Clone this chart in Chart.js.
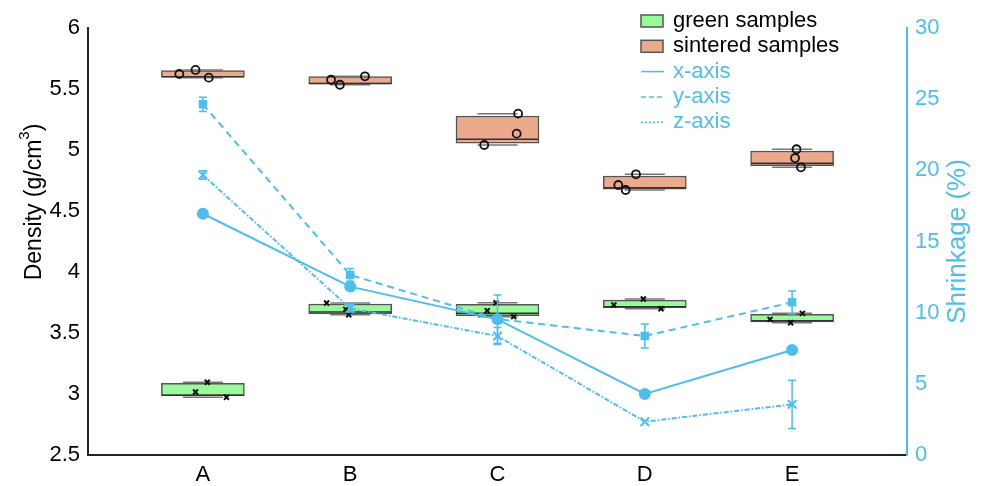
<!DOCTYPE html>
<html>
<head>
<meta charset="utf-8">
<script src="https://cdn.jsdelivr.net/npm/chart.js@4.4.1/dist/chart.umd.min.js"></script>
<style>
  html, body { margin: 0; background: #fff; }
  #wrap { width: 988px; height: 486px; }
</style>
</head>
<body>
<div id="wrap"><canvas id="chart"></canvas></div>
<script>
var categories = ['A', 'B', 'C', 'D', 'E'];

// box stats per category: [min, q1, median, q3, max]  (g/cm3)
var greenBox = [
    [2.973, 2.986, 2.990, 3.088, 3.096],
    [3.650, 3.656, 3.672, 3.738, 3.746],
    [3.634, 3.642, 3.661, 3.735, 3.748],
    [3.699, 3.707, 3.715, 3.770, 3.779],
    [3.584, 3.590, 3.601, 3.653, 3.661]
];
var sinteredBox = [
    [5.593, 5.596, 5.600, 5.650, 5.656],
    [5.535, 5.541, 5.545, 5.601, 5.604],
    [5.041, 5.055, 5.088, 5.279, 5.298],
    [4.672, 4.678, 4.690, 4.787, 4.801],
    [4.858, 4.871, 4.891, 4.992, 5.006]
];

// individual samples: density values and their jittered category position
var greenValues = [
    [3.096, 3.016, 2.973], [3.746, 3.694, 3.650], [3.748, 3.683, 3.634],
    [3.779, 3.730, 3.699], [3.661, 3.612, 3.584]
];
var greenJitter = [
    [0.03, -0.05, 0.16], [-0.16, -0.03, -0.01], [-0.01, -0.07, 0.11],
    [-0.01, -0.21, 0.11], [0.07, -0.15, -0.01]
];
var sinteredValues = [
    [5.656, 5.623, 5.593], [5.604, 5.576, 5.535], [5.298, 5.134, 5.041],
    [4.801, 4.713, 4.672], [5.006, 4.934, 4.858]
];
var sinteredJitter = [
    [-0.05, -0.16, 0.04], [0.10, -0.13, -0.07], [0.14, 0.13, -0.09],
    [-0.06, -0.18, -0.13], [0.03, 0.02, 0.06]
];

// shrinkage (%) and error
var shrinkX = [16.95, 11.83, 9.53, 4.29, 7.38];
var shrinkY = [24.64, 12.65, 9.55, 8.36, 10.73];
var shrinkYErr = [0.5, 0.45, 1.7, 0.85, 0.8];
var shrinkZ = [19.67, 10.3, 8.36, 2.34, 3.56];
var shrinkZErr = [0.3, 0.25, 0.6, 0, 1.7];

var blue = 'rgb(77, 190, 238)';
var greenFill = 'rgb(152, 250, 152)';
var salmonFill = 'rgb(236, 170, 140)';
var boxEdge = '#555';
var font = "'Liberation Sans', Arial, sans-serif";

function boxData(stats) {
    return stats.map((s, i) => ({ x: i, y: [s[1], s[3]] }));
}
function sampleData(values, jitter) {
    let pts = [];
    values.forEach((vals, i) => {
        vals.forEach((v, j) => pts.push({ x: i + jitter[i][j], y: v }));
    });
    return pts;
}
function lineData(vals) {
    return vals.map((v, i) => ({ x: i, y: v }));
}

var boxPlugin = {
    id: 'boxExtras',
    afterDatasetDraw(chart, args) {
        let ds = chart.data.datasets[args.index];
        if (!ds.boxStats) return;
        let ctx = chart.ctx, xs = chart.scales.x, ys = chart.scales.y;
        ctx.save();
        ds.boxStats.forEach((s, i) => {
            let cx = xs.getPixelForValue(i);
            ctx.strokeStyle = '#777';
            ctx.lineWidth = 1.5;
            [s[0], s[4]].forEach(v => {
                let py = ys.getPixelForValue(v);
                ctx.beginPath();
                ctx.moveTo(cx - 20, py);
                ctx.lineTo(cx + 20, py);
                ctx.stroke();
            });
            ctx.strokeStyle = '#333';
            let my = ys.getPixelForValue(s[2]);
            ctx.beginPath();
            ctx.moveTo(cx - 41, my);
            ctx.lineTo(cx + 41, my);
            ctx.stroke();
        });
        ctx.restore();
    },
    afterDatasetsDraw(chart) {
        let ctx = chart.ctx, xs = chart.scales.x, ys = chart.scales.y1;
        ctx.save();
        ctx.strokeStyle = blue;
        ctx.lineWidth = 1.5;
        chart.data.datasets.forEach(ds => {
            if (!ds.errors) return;
            ds.errors.forEach((e, i) => {
                if (!e) return;
                let v = ds.data[i].y;
                let cx = xs.getPixelForValue(i);
                let top = ys.getPixelForValue(v + e), bot = ys.getPixelForValue(v - e);
                ctx.beginPath();
                ctx.moveTo(cx, top); ctx.lineTo(cx, bot);
                ctx.moveTo(cx - 4, top); ctx.lineTo(cx + 4, top);
                ctx.moveTo(cx - 4, bot); ctx.lineTo(cx + 4, bot);
                ctx.stroke();
            });
        });
        ctx.restore();
    },
    afterDraw(chart) {
        let ctx = chart.ctx, area = chart.chartArea;
        ctx.save();
        // left axis title with superscript
        ctx.fillStyle = '#000';
        ctx.textBaseline = 'middle';
        ctx.translate(35, 202);
        ctx.rotate(-Math.PI / 2);
        let main = 'Density (g/cm';
        ctx.font = '15px ' + font;
        let supW = ctx.measureText('3').width;
        ctx.font = '23px ' + font;
        let w = ctx.measureText(main).width + supW + ctx.measureText(')').width;
        let x0 = -w / 2;
        ctx.textAlign = 'left';
        ctx.fillText(main, x0, 0);
        x0 += ctx.measureText(main).width;
        ctx.font = '15px ' + font;
        ctx.fillText('3', x0, -10);
        x0 += supW;
        ctx.font = '23px ' + font;
        ctx.fillText(')', x0, 0);
        ctx.restore();

        // right axis title
        ctx.save();
        ctx.fillStyle = blue;
        ctx.textBaseline = 'middle';
        ctx.textAlign = 'center';
        ctx.font = '26px ' + font;
        ctx.translate(958, (area.top + area.bottom) / 2);
        ctx.rotate(-Math.PI / 2);
        ctx.fillText('Shrinkage (%)', 0, 0);
        ctx.restore();

        // legend
        ctx.save();
        ctx.font = '22px ' + font;
        ctx.textBaseline = 'middle';
        ctx.textAlign = 'left';
        let items = [
            { label: 'green samples', fill: greenFill, color: '#000' },
            { label: 'sintered samples', fill: salmonFill, color: '#000' },
            { label: 'x-axis', dash: [], color: blue },
            { label: 'y-axis', dash: [5, 3], color: blue },
            { label: 'z-axis', dash: [2, 2], color: blue }
        ];
        items.forEach((it, k) => {
            let cy = 21 + k * 25.3;
            if (it.fill) {
                ctx.fillStyle = it.fill;
                ctx.strokeStyle = boxEdge;
                ctx.lineWidth = 1.5;
                ctx.fillRect(641, cy - 6, 22, 12);
                ctx.strokeRect(641, cy - 6, 22, 12);
            } else {
                ctx.strokeStyle = blue;
                ctx.lineWidth = 1.5;
                ctx.setLineDash(it.dash);
                ctx.beginPath();
                ctx.moveTo(641, cy); ctx.lineTo(664, cy);
                ctx.stroke();
                ctx.setLineDash([]);
            }
            ctx.fillStyle = it.color;
            ctx.fillText(it.label, 673, cy);
        });
        ctx.restore();
    }
};

new Chart('chart', {
    type: 'bar',
    data: {
        datasets: [
            {
                type: 'line', label: 'x-axis', data: lineData(shrinkX), yAxisID: 'y1',
                borderColor: blue, backgroundColor: blue, borderWidth: 2,
                pointStyle: 'circle', pointRadius: 5, order: 0
            },
            {
                type: 'line', label: 'y-axis', data: lineData(shrinkY), yAxisID: 'y1',
                errors: shrinkYErr, borderColor: blue, backgroundColor: blue, borderWidth: 2,
                borderDash: [7, 5], pointStyle: 'rect', pointRadius: 4.5, order: 0
            },
            {
                type: 'line', label: 'z-axis', data: lineData(shrinkZ), yAxisID: 'y1',
                errors: shrinkZErr, borderColor: blue, backgroundColor: blue, borderWidth: 2,
                borderDash: [5, 2, 1.5, 2], pointStyle: 'crossRot', pointRadius: 6,
                pointBorderWidth: 2, order: 0
            },
            {
                type: 'line', label: 'green pts', data: sampleData(greenValues, greenJitter), yAxisID: 'y',
                showLine: false, pointStyle: 'crossRot', pointRadius: 3.5, pointBorderWidth: 2,
                borderColor: '#111', backgroundColor: '#111', order: 1
            },
            {
                type: 'line', label: 'sintered pts', data: sampleData(sinteredValues, sinteredJitter), yAxisID: 'y',
                showLine: false, pointStyle: 'circle', pointRadius: 4, pointBorderWidth: 1.8,
                borderColor: '#111', backgroundColor: 'rgba(0,0,0,0)', order: 1
            },
            {
                label: 'green samples', data: boxData(greenBox), boxStats: greenBox, yAxisID: 'y',
                backgroundColor: greenFill, borderColor: boxEdge, borderWidth: 1.5,
                borderSkipped: false, barThickness: 83, grouped: false, order: 2
            },
            {
                label: 'sintered samples', data: boxData(sinteredBox), boxStats: sinteredBox, yAxisID: 'y',
                backgroundColor: salmonFill, borderColor: boxEdge, borderWidth: 1.5,
                borderSkipped: false, barThickness: 83, grouped: false, order: 2
            }
        ]
    },
    options: {
        responsive: true,
        maintainAspectRatio: false,
        animation: false,
        layout: { padding: { top: 28, left: 0, right: 0, bottom: 0 } },
        plugins: { legend: { display: false }, tooltip: { enabled: false } },
        scales: {
            x: {
                type: 'linear', min: -0.78, max: 4.78, offset: false, position: 'bottom',
                grid: { display: false, drawTicks: false, offset: false },
                border: { color: '#222', width: 2 },
                afterBuildTicks: s => { s.ticks = categories.map((c, i) => ({ value: i })); },
                afterFit: s => { s.height = 31; },
                ticks: {
                    padding: 7, color: '#000', font: { family: font, size: 22 },
                    callback: v => categories[v]
                }
            },
            y: {
                min: 2.5, max: 6, position: 'left',
                grid: { display: false, drawTicks: false },
                border: { color: '#222', width: 2 },
                afterFit: s => { s.width = 88; },
                ticks: {
                    stepSize: 0.5, padding: 8, color: '#000', font: { family: font, size: 22 },
                    callback: v => String(v)
                }
            },
            y1: {
                min: 0, max: 30, position: 'right',
                grid: { display: false, drawTicks: false },
                border: { color: blue, width: 2 },
                afterFit: s => { s.width = 81; },
                ticks: { stepSize: 5, padding: 8, color: blue, font: { family: font, size: 22 } }
            }
        }
    },
    plugins: [boxPlugin]
});
</script>
</body>
</html>
